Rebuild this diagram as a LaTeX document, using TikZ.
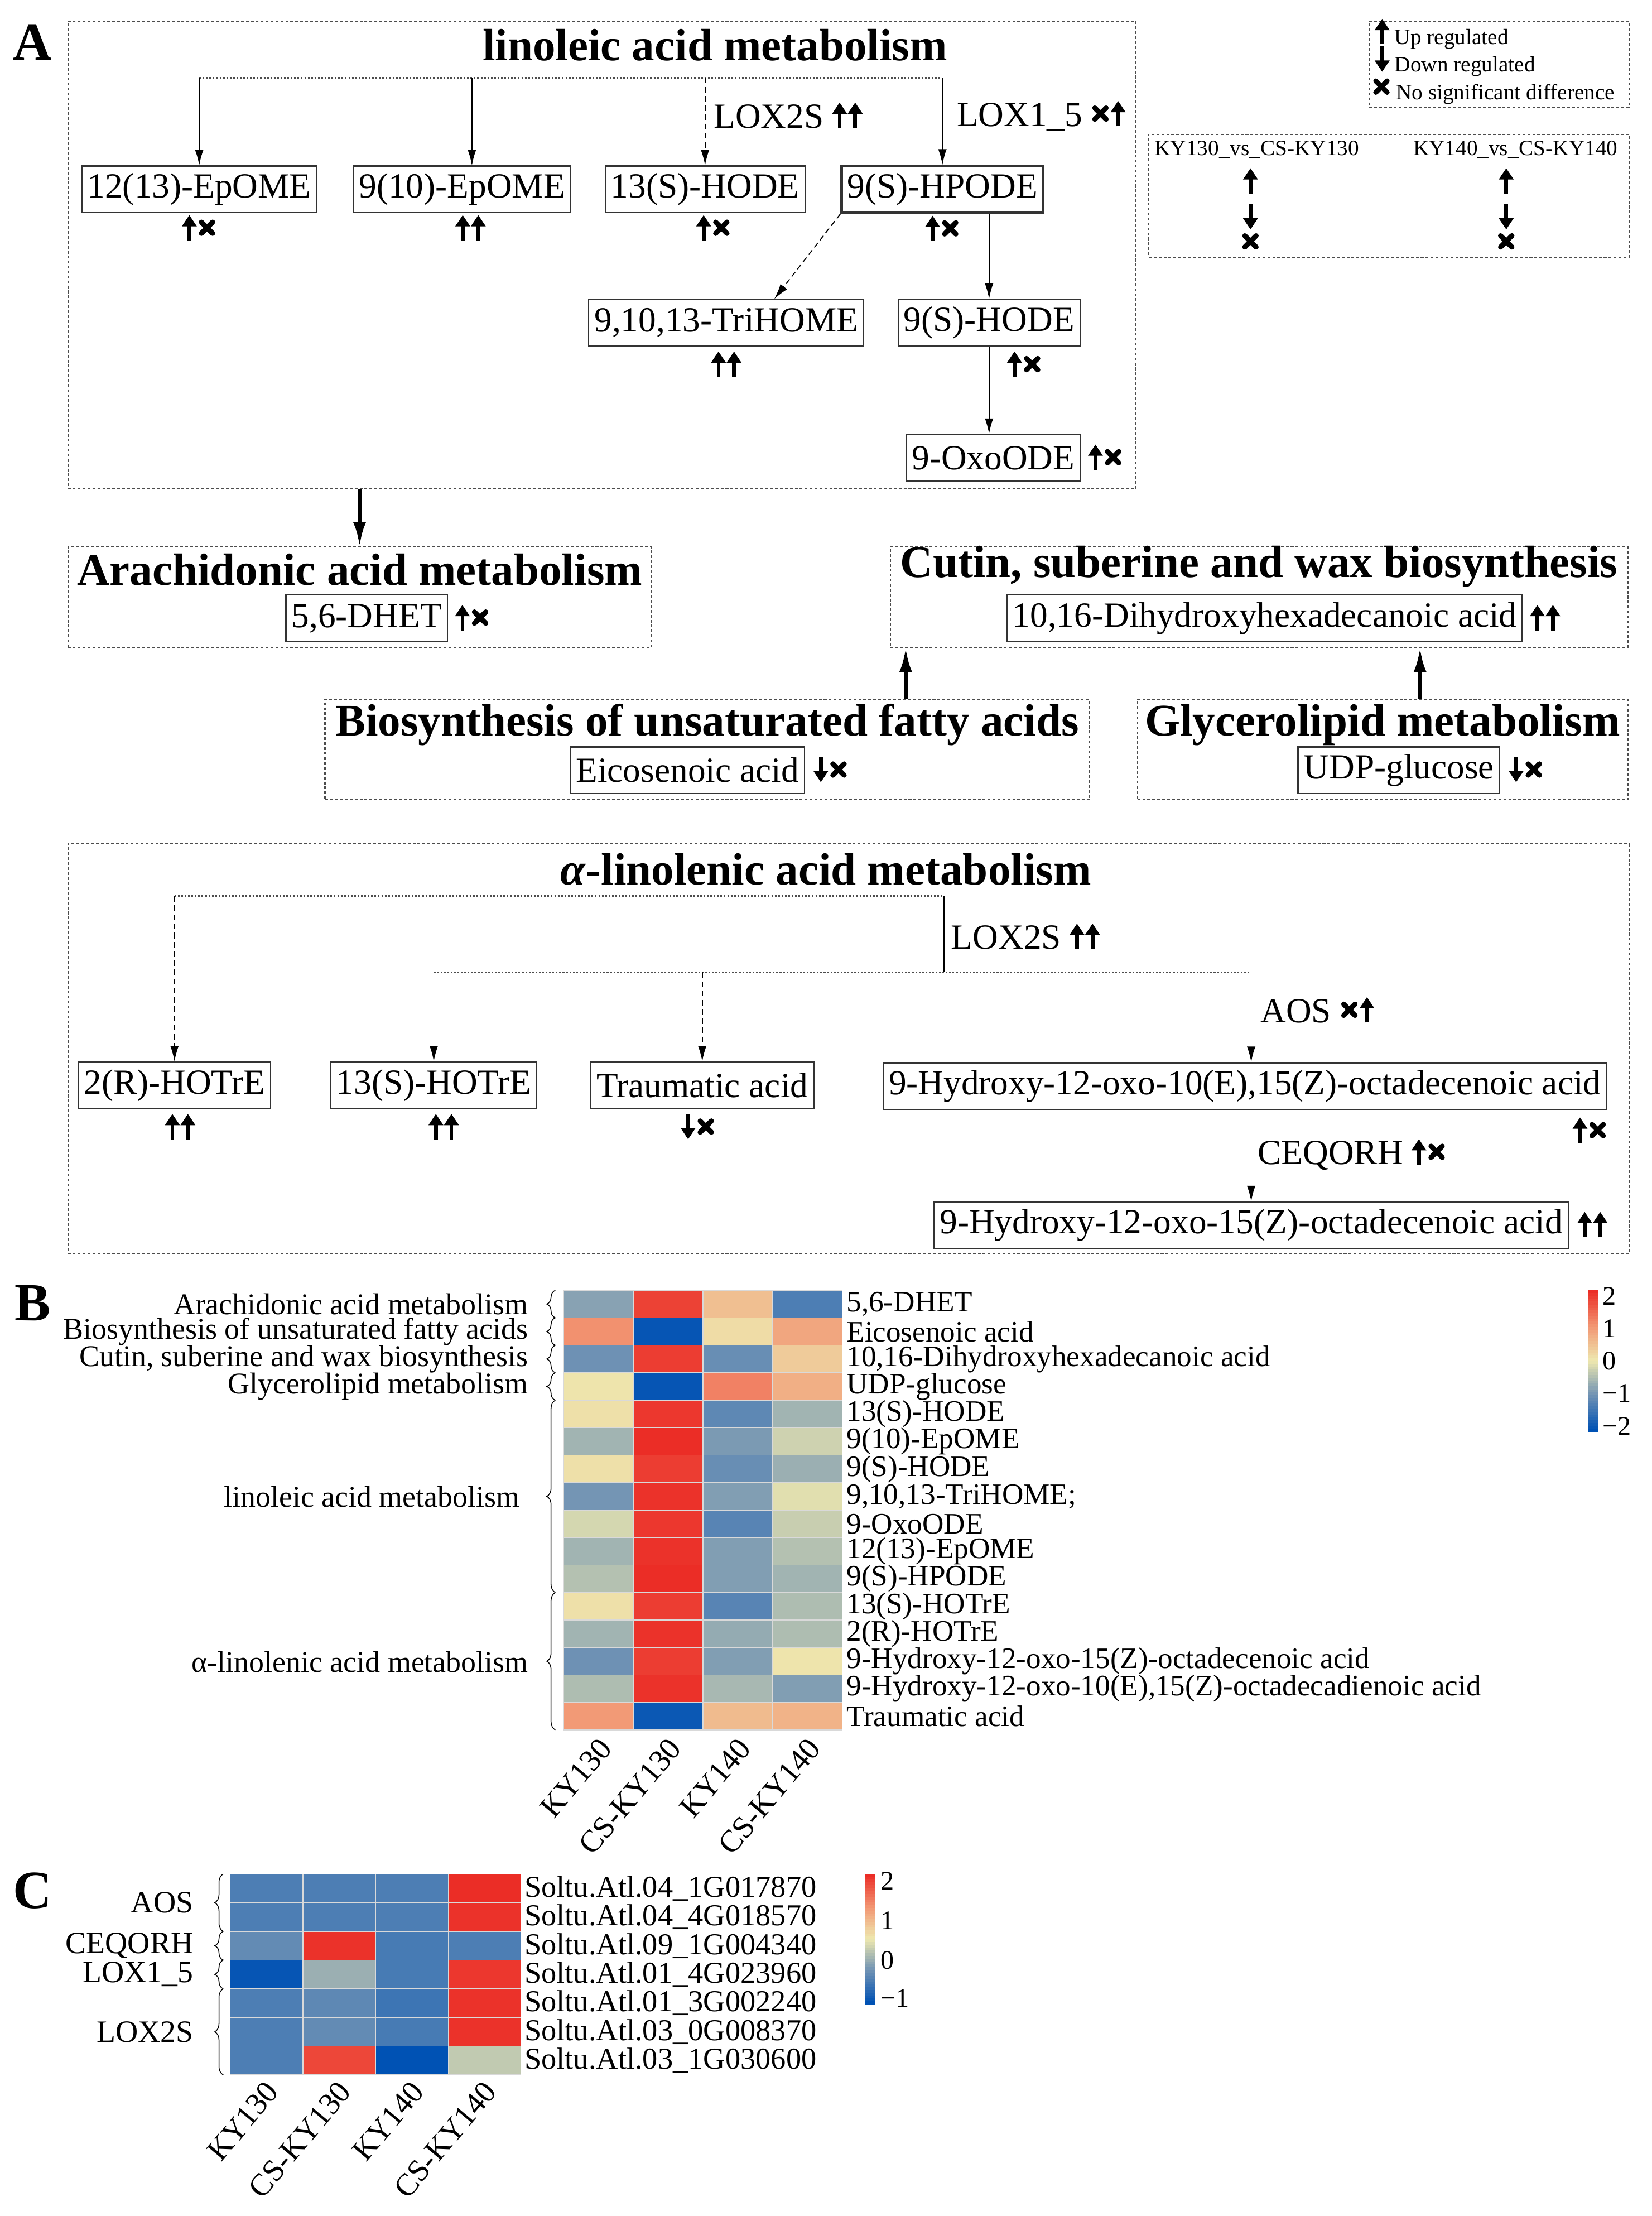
\documentclass[tikz,border=0pt]{standalone}
\usepackage{fontspec}
\setmainfont{Liberation Serif}
\usetikzlibrary{positioning}
\usetikzlibrary{arrows.meta}
\usetikzlibrary{decorations.pathreplacing}

\definecolor{hmred}{RGB}{235,45,38}
\definecolor{hmsalmon}{RGB}{242,150,115}
\definecolor{hmyellow}{RGB}{238,232,175}
\definecolor{hmsteel}{RGB}{110,145,180}
\definecolor{hmblue}{RGB}{0,82,180}

% value (-2..2) -> colour hmc
\newcommand{\hmcolor}[1]{%
  \pgfmathsetmacro{\hmv}{#1}%
  \ifdim\hmv pt>1pt
    \pgfmathsetmacro{\hmp}{(\hmv-1)*100}\colorlet{hmc}{hmred!\hmp!hmsalmon}%
  \else\ifdim\hmv pt>0pt
    \pgfmathsetmacro{\hmp}{\hmv*100}\colorlet{hmc}{hmsalmon!\hmp!hmyellow}%
  \else\ifdim\hmv pt>-1pt
    \pgfmathsetmacro{\hmp}{abs(\hmv)*100}\colorlet{hmc}{hmsteel!\hmp!hmyellow}%
  \else
    \pgfmathsetmacro{\hmp}{(abs(\hmv)-1)*100}\colorlet{hmc}{hmblue!\hmp!hmsteel}%
  \fi\fi\fi}

% regulation marks
\newcommand{\upm}{\tikz[baseline=0pt]{\useasboundingbox (0pt,-1pt) rectangle (10pt,18pt);
  \draw[line width=2.6pt,-{Triangle[length=8pt,width=10pt]}] (5pt,0pt) -- (5pt,18pt);}}
\newcommand{\dnm}{\tikz[baseline=0pt]{\useasboundingbox (0pt,-1pt) rectangle (10pt,18pt);
  \draw[line width=2.6pt,-{Triangle[length=8pt,width=10pt]}] (5pt,18pt) -- (5pt,0pt);}}
\newcommand{\nom}{\tikz[baseline=0pt]{\useasboundingbox (0pt,-1pt) rectangle (13pt,18pt);
  \draw[line width=3.6pt,line cap=round] (2.5pt,5pt) -- (10.5pt,13pt) (2.5pt,13pt) -- (10.5pt,5pt);}}

\begin{document}
\begin{tikzpicture}[x=1pt,y=-1pt,
    grpbox/.style={draw=black!70,line width=0.8pt,dash pattern=on 2pt off 1.5pt,inner sep=0pt},
    grptitle/.style={font=\fontsize{32}{36}\selectfont\bfseries,inner sep=0pt},
    metab/.style={draw=black!80,line width=0.9pt,inner xsep=4pt,inner ysep=0pt,minimum height=33pt,
      font=\fontsize{25}{28}\selectfont},
    enz/.style={anchor=west,inner sep=0pt,font=\fontsize{25}{28}\selectfont},
    regmark/.style={inner sep=0pt},
    flow/.style={-{Latex[length=11pt,width=6pt]},line width=0.7pt},
    dflow/.style={flow,dash pattern=on 4pt off 2.5pt},
    bigflow/.style={-{Latex[length=17pt,width=9pt]},line width=2.6pt},
    dotline/.style={line width=1.1pt,black!70,dash pattern=on 1.2pt off 1.2pt},
    panel/.style={font=\fontsize{38}{40}\selectfont\bfseries,inner sep=0pt},
    legtext/.style={anchor=west,inner sep=0pt,font=\fontsize{15.5}{18}\selectfont},
    hmlab/.style={anchor=west,inner sep=0pt,font=\fontsize{21}{22}\selectfont},
    grplab/.style={anchor=east,inner sep=0pt,font=\fontsize{21.3}{23}\selectfont},
    collab/.style={anchor=east,rotate=50,inner sep=0pt,font=\fontsize{22}{24}\selectfont},
    barlab/.style={anchor=west,inner sep=0pt,font=\fontsize{19}{21}\selectfont},
    hmbrace/.style={decorate,decoration={brace,amplitude=6pt},line width=0.6pt}
  ]
  \useasboundingbox (0,0) rectangle (1169,1568);

  % ---------------- A ----------------
  \node[panel] (pA) at (23,30) {A};

  % linoleic acid metabolism
  \node[grpbox,minimum width=756pt,minimum height=331pt] (linbox) at (426,180.5) {};
  \node[grptitle] (lintitle) at (506,32) {linoleic acid metabolism};
  \node[metab] (e1213) at (141,134) {12(13)-EpOME};
  \node[metab] (e910) at (327,134) {9(10)-EpOME};
  \node[metab] (h13s) at (499,134) {13(S)-HODE};
  \node[metab,line width=1.8pt] (hpode) at (667,134) {9(S)-HPODE};
  \node[metab] (trihome) at (514,228.5) {9,10,13-TriHOME};
  \node[metab] (h9s) at (700,228.5) {9(S)-HODE};
  \node[metab] (oxoode) at (703,324) {9-OxoODE};
  \node[regmark,below=1pt of e1213] (me1213) {\upm\hspace{1pt}\nom};
  \node[regmark,below=1pt of e910,xshift=6pt] (me910) {\upm\hspace{1pt}\upm};
  \node[regmark,below=1pt of h13s,xshift=6pt] (mh13s) {\upm\hspace{1pt}\nom};
  \node[regmark,below=1pt of hpode] (mhpode) {\upm\hspace{1pt}\nom};
  \node[regmark,below=3pt of trihome] (mtrihome) {\upm\hspace{1pt}\upm};
  \node[regmark,below=3pt of h9s,xshift=25pt] (mh9s) {\upm\hspace{1pt}\nom};
  \node[regmark,right=5pt of oxoode] (moxoode) {\upm\hspace{1pt}\nom};

  \coordinate (lintop) at (0,55);
  \coordinate (e910x) at (334,0);
  \draw[dotline] (e1213.north |- lintop) -- (hpode.north |- lintop);
  \draw[flow] (e1213.north |- lintop) -- (e1213.north);
  \draw[flow] (lintop -| e910x) -- (e910.north -| e910x);
  \draw[dflow] (h13s.north |- lintop) -- (h13s.north);
  \draw[flow] (hpode.north |- lintop) -- (hpode.north);
  \node[enz] (lox2s) at (505,82) {LOX2S \upm\hspace{1pt}\upm};
  \node[enz] (lox15) at (677,82) {LOX1\_5 \nom\hspace{1pt}\upm};
  \draw[dflow] (hpode.south west) -- ([xshift=34pt]trihome.north);
  \draw[flow] (hpode.south -| h9s.north) -- (h9s.north);
  \draw[flow] (h9s.south) -- (h9s.south |- oxoode.north);

  % legend
  \node[grpbox,minimum width=184pt,minimum height=61pt] (legend) at (1061,45.5) {};
  \node[legtext] (legup) at (973,24) {\upm\ Up regulated};
  \node[legtext] (legdn) at (973,43.5) {\dnm\ Down regulated};
  \node[legtext] (legno) at (971,63) {\nom\ No significant difference};

  \node[grpbox,minimum width=340pt,minimum height=87pt] (legcmp) at (983,138.5) {};
  \node[legtext] (cmp130) at (817,106) {KY130\_vs\_CS-KY130};
  \node[legtext] (cmp140) at (1000,106) {KY140\_vs\_CS-KY140};
  \node[regmark] (c130up) at (885,128.5) {\upm};
  \node[regmark,below=6pt of c130up] (c130dn) {\dnm};
  \node[regmark,below=-2pt of c130dn] (c130no) {\nom};
  \node[regmark] (c140up) at (1066,128.5) {\upm};
  \node[regmark,below=6pt of c140up] (c140dn) {\dnm};
  \node[regmark,below=-2pt of c140dn] (c140no) {\nom};

  % arachidonic / cutin / unsaturated / glycerolipid
  \node[grpbox,minimum width=413pt,minimum height=71pt] (arabox) at (254.5,422.5) {};
  \node[grptitle] (aratitle) at (254.5,403) {Arachidonic acid metabolism};
  \node[metab] (dhet) at (259.5,437.5) {5,6-DHET};
  \node[regmark,right=5pt of dhet] (mdhet) {\upm\hspace{1pt}\nom};
  \draw[bigflow] (linbox.south -| arabox.north) -- (arabox.north);

  \node[grpbox,minimum width=522pt,minimum height=71pt] (cutbox) at (891,422.5) {};
  \node[grptitle] (cuttitle) at (891,401) {Cutin, suberine and wax biosynthesis};
  \node[metab] (dihyd) at (895,437.5) {10,16-Dihydroxyhexadecanoic acid};
  \node[regmark,right=5pt of dihyd] (mdihyd) {\upm\hspace{1pt}\upm};

  \node[grpbox,minimum width=541pt,minimum height=71pt] (biobox) at (500.5,530.5) {};
  \node[grptitle] (biotitle) at (500.5,513) {Biosynthesis of unsaturated fatty acids};
  \node[metab] (eico) at (486.5,545) {Eicosenoic acid};
  \node[regmark,right=6pt of eico] (meico) {\dnm\hspace{1pt}\nom};

  \node[grpbox,minimum width=347pt,minimum height=71pt] (glybox) at (978.5,530.5) {};
  \node[grptitle] (glytitle) at (978.5,513) {Glycerolipid metabolism};
  \node[metab] (udp) at (990,545) {UDP-glucose};
  \node[regmark,right=6pt of udp] (mudp) {\dnm\hspace{1pt}\nom};

  \coordinate (cutin1) at (641,0);
  \coordinate (cutin2) at (1005,0);
  \draw[bigflow] (biobox.north -| cutin1) -- (cutbox.south -| cutin1);
  \draw[bigflow] (glybox.north -| cutin2) -- (cutbox.south -| cutin2);

  % alpha-linolenic acid metabolism
  \node[grpbox,minimum width=1105pt,minimum height=290pt] (alabox) at (600.5,742) {};
  \node[grptitle] (alatitle) at (584.5,615) {\textit{α}-linolenic acid metabolism};
  \node[metab] (hotre2r) at (123.5,768) {2(R)-HOTrE};
  \node[metab] (hotre13s) at (307,768) {13(S)-HOTrE};
  \node[metab] (traum) at (497,768) {Traumatic acid};
  \node[metab] (hyd10e) at (881,768.5) {9-Hydroxy-12-oxo-10(E),15(Z)-octadecenoic acid};
  \node[metab] (hyd15z) at (885.5,867) {9-Hydroxy-12-oxo-15(Z)-octadecenoic acid};
  \node[regmark,below=3pt of hotre2r,xshift=4pt] (mhotre2r) {\upm\hspace{1pt}\upm};
  \node[regmark,below=3pt of hotre13s,xshift=7pt] (mhotre13s) {\upm\hspace{1pt}\upm};
  \node[regmark,below=3pt of traum,xshift=-3pt] (mtraum) {\dnm\hspace{1pt}\nom};
  \node[regmark,anchor=north east] (mhyd10e) at ([yshift=-5pt]hyd10e.south east) {\upm\hspace{1pt}\nom};
  \node[regmark,right=6pt of hyd15z] (mhyd15z) {\upm\hspace{1pt}\upm};

  \coordinate (alA) at (668,634);
  \coordinate (alB) at (668,688);
  \draw[dotline] (hotre2r.north |- alA) -- (alA);
  \draw[line width=0.7pt] (alA) -- (alB);
  \draw[dotline] (hotre13s.north |- alB) -- (hyd15z.north |- alB);
  \draw[dflow] (hotre2r.north |- alA) -- (hotre2r.north);
  \draw[dflow] (hotre13s.north |- alB) -- (hotre13s.north);
  \draw[dflow] (traum.north |- alB) -- (traum.north);
  \draw[dflow] (hyd15z.north |- alB) -- (hyd15z.north |- hyd10e.north);
  \draw[flow] (hyd15z.north |- hyd10e.south) -- (hyd15z.north);
  \node[enz] (lox2sa) at (673,663) {LOX2S \upm\hspace{1pt}\upm};
  \node[enz] (aos) at (892,715) {AOS \nom\hspace{1pt}\upm};
  \node[enz] (ceqorh) at (890,817) {CEQORH \upm\hspace{1pt}\nom};

  % ---------------- B ----------------
  \node[panel] (pB) at (23,922) {B};
  \foreach \rowvals [count=\r] in {{-0.8,1.8,0.5,-1.3},{1.05,-1.95,0.15,0.8},{-1.0,1.85,-1.05,0.35},
      {0.05,-1.95,1.2,0.7},{0.1,1.9,-1.15,-0.6},{-0.6,2.0,-0.9,-0.25},{0.1,1.85,-1.05,-0.65},
      {-0.95,1.95,-0.85,-0.1},{-0.2,1.9,-1.2,-0.3},{-0.6,1.95,-0.85,-0.45},{-0.45,2.0,-0.85,-0.6},
      {0.1,1.85,-1.2,-0.5},{-0.6,1.95,-0.7,-0.5},{-1.0,1.85,-0.85,0.05},{-0.5,1.95,-0.55,-0.85},
      {0.95,-1.9,0.55,0.65}}{
    \foreach \v [count=\c] in \rowvals {
      \hmcolor{\v}
      \filldraw[fill=hmc,draw=white!85!black,line width=0.5pt]
        ({399+(\c-1)*49.25},{913+(\r-1)*19.44}) rectangle ++(49.25,19.44);
    }
  }
  \foreach \lab [count=\r] in {{5,6-DHET},Eicosenoic acid,{10,16-Dihydroxyhexadecanoic acid},UDP-glucose,
      13(S)-HODE,9(10)-EpOME,9(S)-HODE,{9,10,13-TriHOME;},9-OxoODE,12(13)-EpOME,9(S)-HPODE,
      13(S)-HOTrE,2(R)-HOTrE,9-Hydroxy-12-oxo-15(Z)-octadecenoic acid,
      {9-Hydroxy-12-oxo-10(E),15(Z)-octadecadienoic acid},Traumatic acid}
    \node[hmlab] (brow\r) at (599,{913+(\r-0.5)*19.44}) {\lab};
  \node[grplab] (gara) at (374,922.7) {Arachidonic acid metabolism};
  \node[grplab] (gbio) at (374,942.2) {Biosynthesis of unsaturated fatty acids};
  \node[grplab] (gcut) at (374,961.6) {Cutin, suberine and wax biosynthesis};
  \node[grplab] (ggly) at (374,981) {Glycerolipid metabolism};
  \node[grplab] (glin) at (368,1059) {linoleic acid metabolism};
  \node[grplab] (gala) at (374,1176) {α-linolenic acid metabolism};
  \foreach \ra/\rb in {1/1,2/2,3/3,4/4,5/11,12/16}
    \draw[hmbrace] (393,{913+\rb*19.44}) -- (393,{913+(\ra-1)*19.44});
  \foreach \lab [count=\c] in {KY130,CS-KY130,KY140,CS-KY140}
    \node[collab] (bcol\c) at ({399+(\c-0.5)*49.25+5},1233) {\lab};
  % colour key
  \foreach \i in {0,...,49}{
    \hmcolor{2-\i*4/49}
    \fill[hmc] (1124,{913+\i*2}) rectangle ++(7,2.2);
  }
  \foreach \lab/\yy [count=\k] in {2/917,1/940,0/963,−1/986,−2/1009}
    \node[barlab] (bkey\k) at (1134,\yy) {\lab};

  % ---------------- C ----------------
  \node[panel] (pC) at (23,1338) {C};
  \foreach \rowvals [count=\r] in {{-1.3,-1.3,-1.3,2},{-1.3,-1.3,-1.3,1.95},{-1.1,1.95,-1.35,-1.3},
      {-1.95,-0.65,-1.35,1.9},{-1.3,-1.15,-1.45,1.95},{-1.3,-1.1,-1.35,1.95},{-1.3,1.75,-2,-0.35}}{
    \foreach \v [count=\c] in \rowvals {
      \hmcolor{\v}
      \filldraw[fill=hmc,draw=white!85!black,line width=0.5pt]
        ({163+(\c-1)*51.4},{1326+(\r-1)*20.3}) rectangle ++(51.4,20.3);
    }
  }
  \foreach \lab [count=\r] in {Soltu.Atl.04\_1G017870,Soltu.Atl.04\_4G018570,Soltu.Atl.09\_1G004340,
      Soltu.Atl.01\_4G023960,Soltu.Atl.01\_3G002240,Soltu.Atl.03\_0G008370,Soltu.Atl.03\_1G030600}
    \node[hmlab,font=\fontsize{21.5}{23}\selectfont] (crow\r) at (371,{1326+(\r-0.5)*20.3}) {\lab};
  \node[grplab,font=\fontsize{22}{24}\selectfont] (caos) at (137,1346.3) {AOS};
  \node[grplab,font=\fontsize{22}{24}\selectfont] (cceq) at (137,1376.7) {CEQORH};
  \node[grplab,font=\fontsize{22}{24}\selectfont] (clox15) at (137,1397) {LOX1\_5};
  \node[grplab,font=\fontsize{22}{24}\selectfont] (clox2s) at (137,1437.7) {LOX2S};
  \foreach \ra/\rb in {1/2,3/3,4/4,5/7}
    \draw[hmbrace] (158,{1326+\rb*20.3}) -- (158,{1326+(\ra-1)*20.3});
  \foreach \lab [count=\c] in {KY130,CS-KY130,KY140,CS-KY140}
    \node[collab] (ccol\c) at ({163+(\c-0.5)*51.4+4},1476) {\lab};
  \foreach \i in {0,...,45}{
    \hmcolor{2-\i*4/45}
    \fill[hmc] (612,{1326+\i*2}) rectangle ++(7,2.2);
  }
  \foreach \lab/\yy [count=\k] in {2/1331,1/1359,0/1387,−1/1414}
    \node[barlab] (ckey\k) at (623,\yy) {\lab};
\end{tikzpicture}
\end{document}
